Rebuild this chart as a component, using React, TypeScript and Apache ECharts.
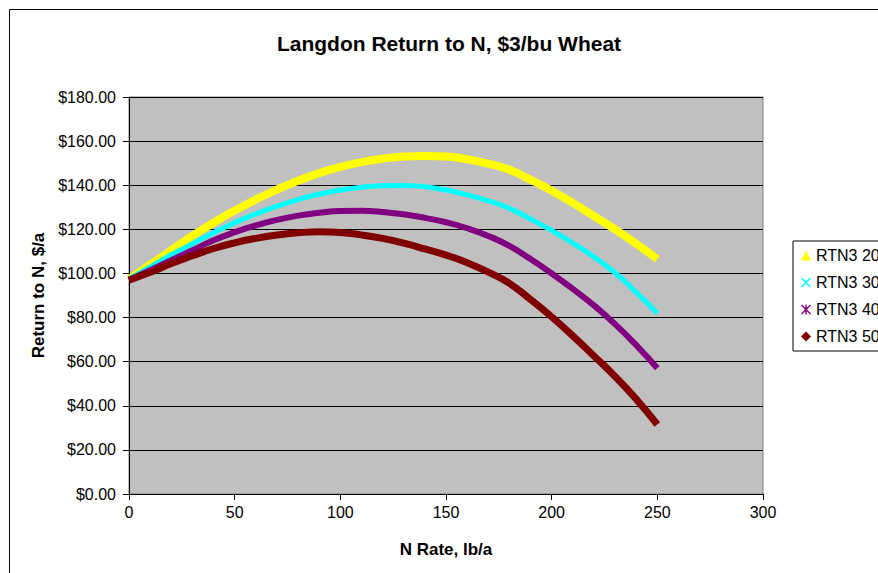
import React, { useEffect, useRef } from "react";
import * as echarts from "echarts";

const nRates = [0, 10, 20, 30, 40, 50, 60, 70, 80, 90, 100, 110, 120, 130, 140, 150, 160, 170, 180, 190, 200, 210, 220, 230, 240, 250];
const rtn20 = [97.5, 104, 110.5, 117, 123, 128.5, 133.5, 138, 142, 145.5, 148.3, 150.5, 152, 153, 153.3, 153, 151.8, 149.8, 147, 142.5, 137.5, 132, 126, 120, 113.5, 106.5];
const rtn30 = [97.5, 103, 108.5, 113.5, 118.5, 123, 127, 130.5, 133.5, 136, 137.8, 139.1, 139.8, 139.9, 139.3, 137.8, 135.6, 132.9, 129.5, 124.7, 119.5, 113.8, 107.5, 100.3, 91.5, 82];
const rtn40 = [97, 101.5, 106, 110.5, 115, 118.7, 121.8, 124.3, 126.2, 127.5, 128.3, 128.4, 127.9, 126.8, 125.2, 123.2, 120.5, 117, 112.5, 106.5, 100, 93, 85.5, 77, 67.5, 57];
const rtn50 = [97, 100.5, 104.5, 108, 111.3, 113.9, 115.9, 117.4, 118.4, 118.9, 118.6, 117.5, 115.9, 113.7, 111.1, 108.3, 104.9, 100.6, 95.5, 88.2, 80.3, 71.7, 62.6, 53.3, 43, 31.5];

const seriesNames = ["RTN3 20", "RTN3 30", "RTN3 40", "RTN3 50"];
const seriesColors = ["#ffff00", "#00ffff", "#800080", "#800000"];
const seriesWidths = [8, 5, 6, 7];
const xIcon = "path://M0,1 L1,0 L5,4 L9,0 L10,1 L6,5 L10,9 L9,10 L5,6 L1,10 L0,9 L4,5 Z";
const starIcon = "path://M0,1 L1,0 L5,4 L9,0 L10,1 L6,5 L10,9 L9,10 L5,6 L1,10 L0,9 L4,5 Z M4.3,0 L5.7,0 L5.7,10 L4.3,10 Z";
const seriesIcons = ["triangle", xIcon, starIcon, "diamond"];

export default function App() {
  const ref = useRef<HTMLDivElement>(null);
  useEffect(() => {
    if (!ref.current) return;
    const chart = echarts.init(ref.current, null, { renderer: "svg" });
    const all = [rtn20, rtn30, rtn40, rtn50];
    const font = "Arial, 'Liberation Sans', sans-serif";
    chart.setOption({
      animation: false,
      backgroundColor: "#ffffff",
      textStyle: { fontFamily: font, color: "#000" },
      title: {
        text: "Langdon Return to N, $3/bu Wheat",
        left: 444,
        textAlign: "center",
        top: 28,
        textStyle: { fontSize: 21, fontWeight: "bold", color: "#000", fontFamily: font },
      },
      graphic: [
        {
          type: "rect",
          shape: { x: 9.5, y: 9.5, width: 1000, height: 1000 },
          style: { fill: "none", stroke: "#000", lineWidth: 1 },
          silent: true,
        },
      ],
      legend: {
        orient: "vertical",
        left: 793,
        top: 241,
        padding: [6, 10, 6, 8],
        itemWidth: 10,
        itemHeight: 10,
        itemGap: 10,
        borderColor: "#000",
        borderWidth: 1,
        backgroundColor: "#fff",
        textStyle: { fontSize: 16, lineHeight: 17, color: "#000", fontFamily: font },
        data: seriesNames.map((n, i) => ({ name: n, icon: seriesIcons[i] })),
      },
      grid: {
        left: 129,
        top: 97,
        right: 115,
        bottom: 79,
        show: true,
        backgroundColor: "#c0c0c0",
        borderColor: "#808080",
        borderWidth: 1,
      },
      xAxis: {
        type: "value",
        min: 0,
        max: 300,
        interval: 50,
        name: "N Rate, lb/a",
        nameLocation: "middle",
        nameGap: 47,
        nameTextStyle: { fontSize: 17, fontWeight: "bold", color: "#000", fontFamily: font },
        axisLine: { show: true, lineStyle: { color: "#000", width: 1 } },
        axisTick: { show: true, length: 6, inside: false, lineStyle: { color: "#000" } },
        axisLabel: { fontSize: 16, color: "#000", margin: 10, fontFamily: font },
        splitLine: { show: false },
      },
      yAxis: {
        type: "value",
        min: 0,
        max: 180,
        interval: 20,
        name: "Return to N, $/a",
        nameLocation: "middle",
        nameGap: 81,
        nameTextStyle: { fontSize: 17, fontWeight: "bold", color: "#000", fontFamily: font },
        axisLine: { show: true, lineStyle: { color: "#000", width: 1 } },
        axisTick: { show: true, length: 6, inside: false, lineStyle: { color: "#000" } },
        axisLabel: {
          fontSize: 16,
          color: "#000",
          margin: 13,
          fontFamily: font,
          formatter: (v: number) => "$" + v.toFixed(2),
        },
        splitLine: { show: true, lineStyle: { color: "#000", width: 1 } },
      },
      series: all.map((vals, i) => ({
        name: seriesNames[i],
        type: "line",
        smooth: 0.5,
        showSymbol: false,
        symbol: seriesIcons[i],
        color: seriesColors[i],
        lineStyle: { color: seriesColors[i], width: seriesWidths[i] },
        itemStyle: { color: seriesColors[i] },
        data: nRates.map((n, j) => [n, vals[j]]),
      })),
    });
    return () => chart.dispose();
  }, []);
  return (
    <div
      ref={ref}
      style={{ position: "fixed", left: 0, top: 0, width: 878, height: 573 }}
    />
  );
}
